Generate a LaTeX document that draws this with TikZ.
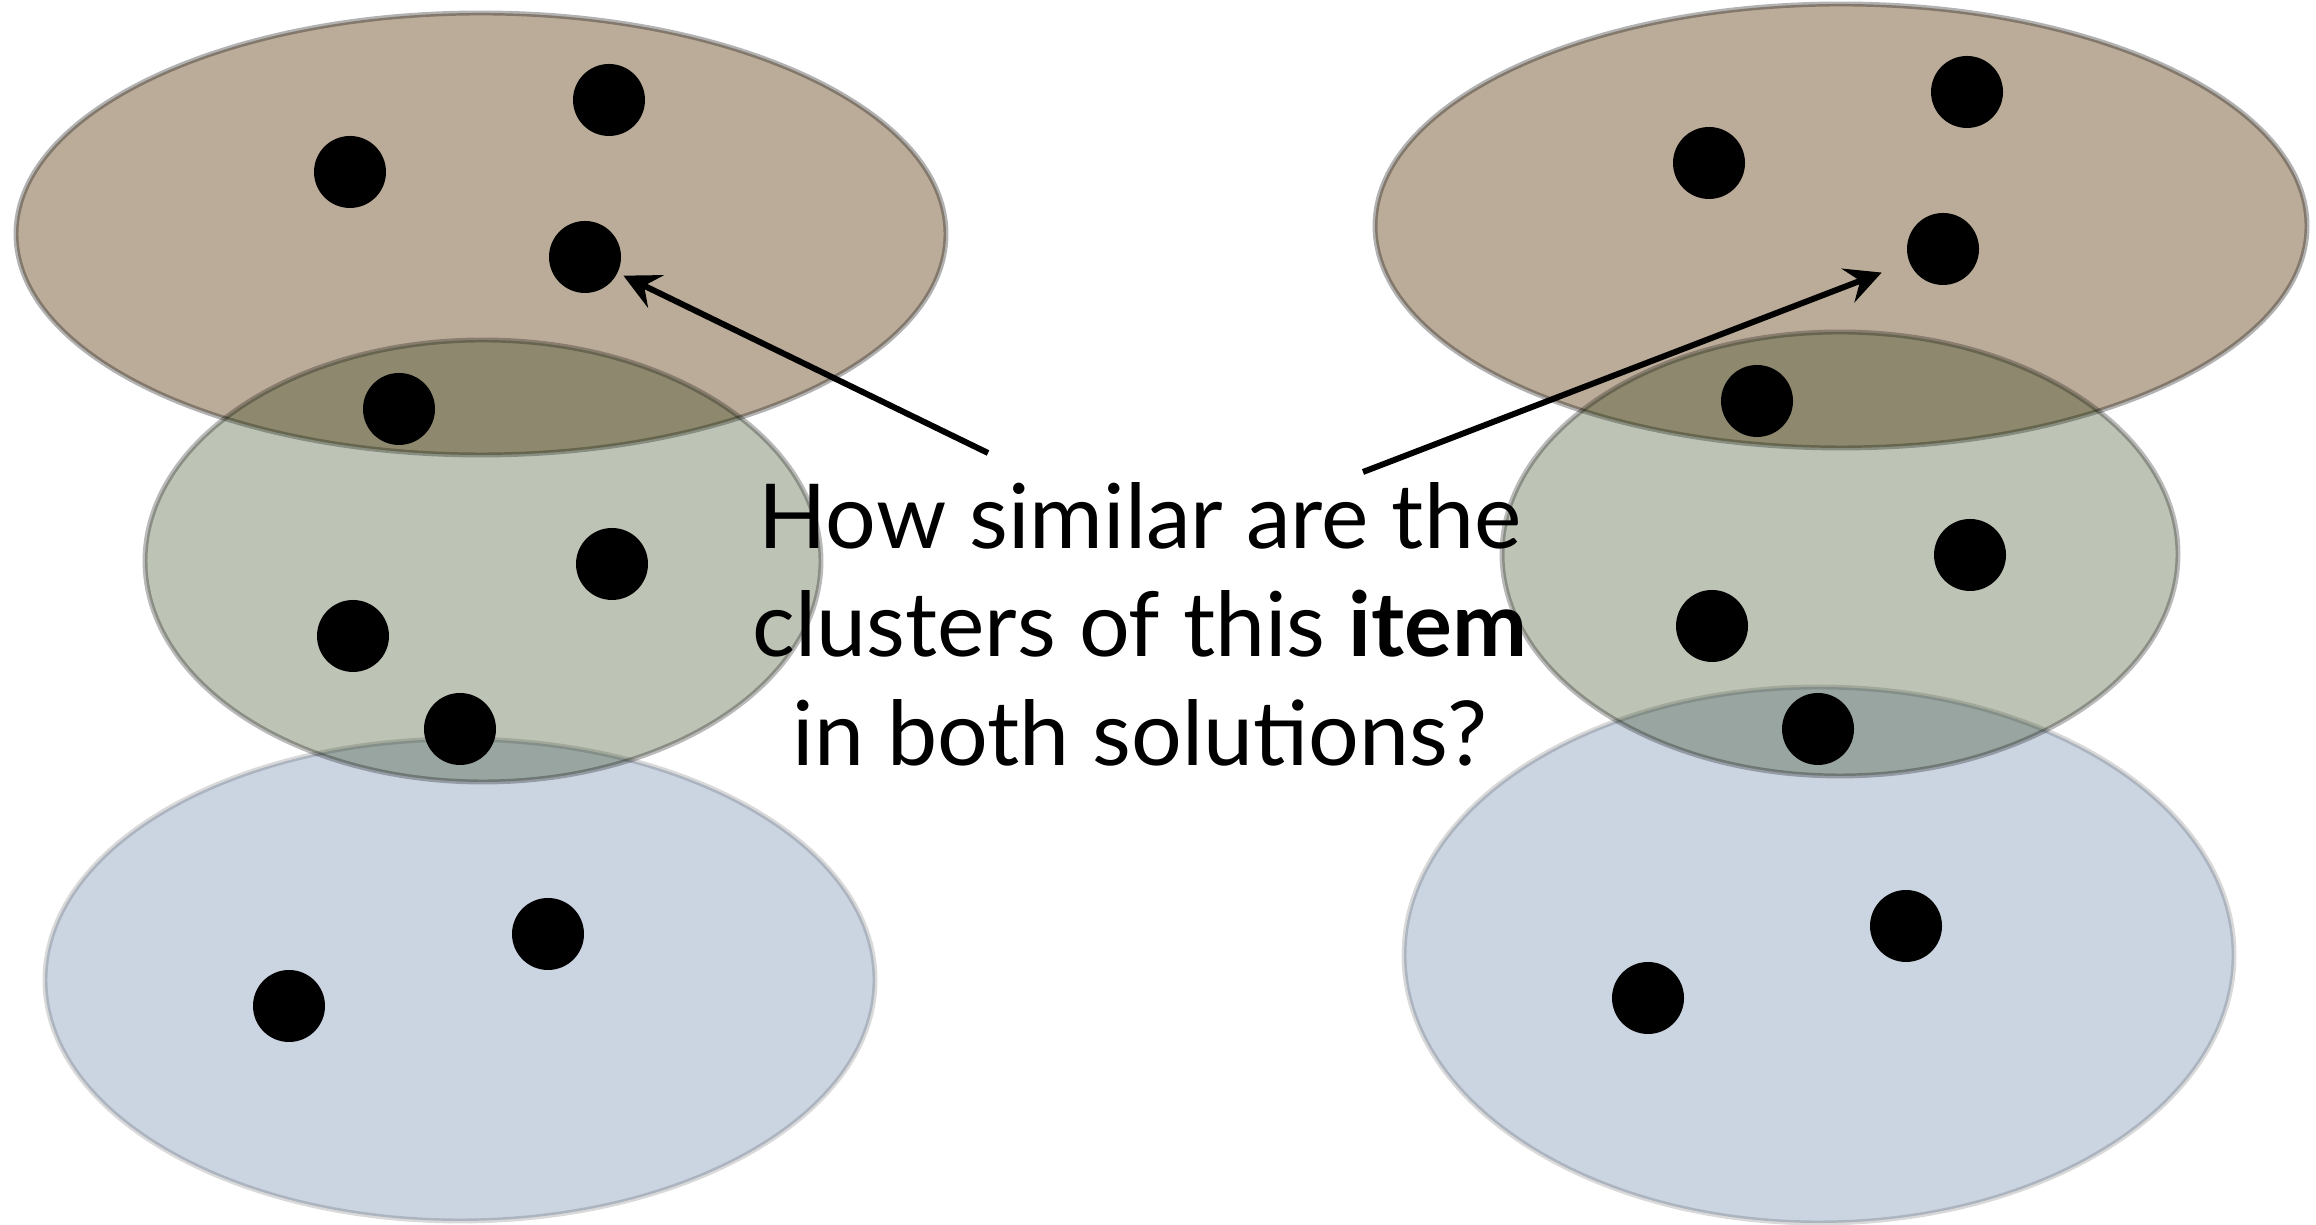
\documentclass[tikz,border=0pt]{standalone}
\usepackage{fontspec}
\setmainfont{Lato}
\usetikzlibrary{arrows.meta}
\definecolor{cltop}{RGB}{119,89,51}
\definecolor{clmid}{RGB}{38,58,12}
\definecolor{clbot}{RGB}{82,112,155}
\def\dotsize{7.2mm}

\begin{document}
\begin{tikzpicture}[
		ctop/.style={fill=cltop,fill opacity=0.5,draw=black,draw opacity=0.3,line width=1.4pt},
		cmid/.style={fill=clmid,fill opacity=0.3,draw=black,draw opacity=0.27,line width=1.4pt},
		cbot/.style={fill=clbot,fill opacity=0.3,draw=black,draw opacity=0.15,line width=1.4pt},
		pt/.style={circle,fill=black,inner sep=0pt,minimum size=\dotsize},
		w/.style={-{Stealth[length=3.6mm,width=3.6mm,inset=1.3mm]},line width=1.7pt},
		q/.style={font=\fontsize{25.5}{30.9}\selectfont,align=center}]
	\useasboundingbox (0,0) rectangle (23.16,12.25);
	
	% ============ left solution ============
	\draw[ctop] (4.81,9.91) ellipse [x radius=4.65, y radius=2.21];
	\draw[cbot] (4.60,2.45) ellipse [x radius=4.15, y radius=2.41];
	\draw[cmid] (4.83,6.64) ellipse [x radius=3.38, y radius=2.21];
	\node[pt] (l1) at (3.50,10.53) {};
	\node[pt] (l2) at (6.09,11.25) {};
	\node[pt] (l3) at (5.85,9.68) {};
	\node[pt] (l4) at (3.99,8.16) {};
	\node[pt] (l5) at (6.12,6.61) {};
	\node[pt] (l6) at (3.53,5.89) {};
	\node[pt] (l7) at (4.60,4.96) {};
	\node[pt] (l8) at (5.48,2.91) {};
	\node[pt] (l9) at (2.89,2.19) {};
	
	% ============ right solution ============
	\draw[ctop] (18.41,9.99) ellipse [x radius=4.66, y radius=2.22];
	\draw[cbot] (18.19,2.70) ellipse [x radius=4.15, y radius=2.68];
	\draw[cmid] (18.40,6.71) ellipse [x radius=3.38, y radius=2.22];
	\node[pt] (r1) at (17.09,10.62) {};
	\node[pt] (r2) at (19.67,11.33) {};
	\node[pt] (r3) at (19.43,9.76) {};
	\node[pt] (r4) at (17.57,8.24) {};
	\node[pt] (r5) at (19.70,6.70) {};
	\node[pt] (r6) at (17.12,5.99) {};
	\node[pt] (r7) at (18.18,4.96) {};
	\node[pt] (r8) at (19.06,2.99) {};
	\node[pt] (r9) at (16.48,2.27) {};
	
	% ============ question and pointers ============
	\node[q] (ask) at (11.40,6.01) {How similar are the\\clusters of this \textbf{item}\\in both solutions?};
	\coordinate (tailL) at (9.88,7.72);
	\coordinate (tailR) at (13.63,7.53);
	\draw[w,shorten >=0.6mm] (tailL) -- (l3);
	\draw[w,shorten >=2.9mm] (tailR) -- (r3);
	
\end{tikzpicture}
\end{document}
